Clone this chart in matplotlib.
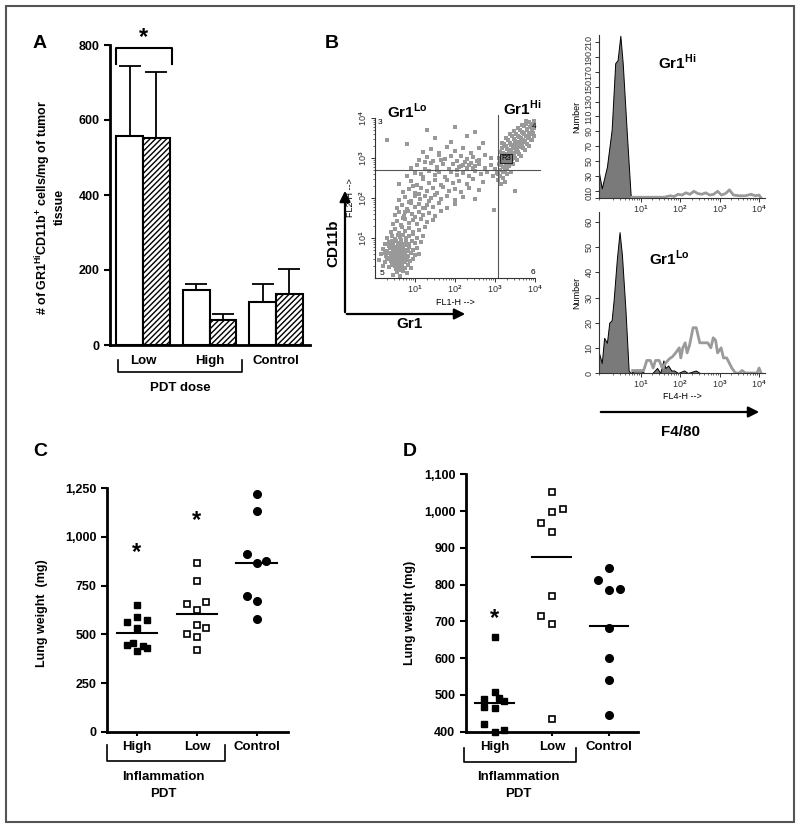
import matplotlib
matplotlib.use("Agg")
import matplotlib.pyplot as plt
from matplotlib.patches import FancyArrowPatch, Rectangle
from matplotlib.lines import Line2D
from matplotlib.ticker import LogLocator, NullFormatter
import numpy as np

plt.rcParams.update({
    'font.family': 'Liberation Sans',
    'font.weight': 'bold',
    'mathtext.fontset': 'custom',
    'mathtext.rm': 'Liberation Sans',
    'mathtext.bf': 'Liberation Sans:bold',
    'hatch.linewidth': 1.0,
})

# ---------------- data ----------------
# panel A
groups_a = ['Low', 'High', 'Control']
a_open = [557, 148, 115]
a_open_err = [187, 15, 47]
a_hatch = [553, 68, 136]
a_hatch_err = [174, 15, 67]

# panel B, dot plot (log10 Gr1, log10 CD11b)
lo_cluster = [
    (0.45, 0.08), (0.55, 0.15), (0.62, 0.05), (0.7, 0.18), (0.8, 0.12), (0.52, 0.22), (0.66, 0.25),
    (0.2, 0.3), (0.35, 0.27), (0.42, 0.33), (0.5, 0.29), (0.58, 0.34), (0.63, 0.21), (0.68, 0.31),
    (0.74, 0.26), (0.82, 0.33), (0.9, 0.24), (0.47, 0.38), (0.56, 0.42),
    (0.1, 0.45), (0.25, 0.4), (0.32, 0.47), (0.4, 0.42), (0.45, 0.49), (0.5, 0.44), (0.55, 0.37),
    (0.6, 0.47), (0.65, 0.41), (0.7, 0.48), (0.75, 0.39), (0.8, 0.45), (0.88, 0.42), (0.95, 0.48),
    (0.58, 0.52), (0.62, 0.39),
    (0.15, 0.6), (0.28, 0.55), (0.35, 0.62), (0.42, 0.57), (0.48, 0.64), (0.53, 0.55), (0.57, 0.61),
    (0.61, 0.57), (0.66, 0.63), (0.71, 0.54), (0.76, 0.6), (0.83, 0.56), (0.9, 0.63), (1.0, 0.58),
    (1.1, 0.61), (0.5, 0.51), (0.63, 0.5),
    (0.2, 0.72), (0.3, 0.68), (0.38, 0.75), (0.45, 0.7), (0.5, 0.77), (0.55, 0.69), (0.6, 0.74),
    (0.65, 0.67), (0.7, 0.76), (0.78, 0.71), (0.85, 0.78), (0.95, 0.7), (1.05, 0.75), (0.58, 0.8),
    (0.68, 0.82),
    (0.25, 0.85), (0.35, 0.9), (0.45, 0.84), (0.52, 0.92), (0.58, 0.87), (0.64, 0.94), (0.7, 0.86),
    (0.77, 0.91), (0.85, 0.85), (0.92, 0.93), (1.0, 0.88), (1.15, 0.9),
    (0.3, 1.0), (0.42, 1.05), (0.5, 0.98), (0.57, 1.08), (0.63, 1.02), (0.7, 1.07), (0.78, 0.99),
    (0.86, 1.04), (0.95, 1.09), (1.05, 1.0), (1.2, 1.06),
    (0.4, 1.15), (0.5, 1.22), (0.6, 1.13), (0.68, 1.27), (0.75, 1.18), (0.85, 1.24), (0.95, 1.14),
    (1.1, 1.2), (1.25, 1.28),
    (0.48, 0.35), (0.53, 0.46), (0.59, 0.58), (0.64, 0.66), (0.69, 0.52), (0.73, 0.44), (0.44, 0.61),
    (0.39, 0.52), (0.56, 0.73), (0.61, 0.84), (0.67, 0.73), (0.72, 0.62), (0.51, 0.6), (0.46, 0.79),
    (0.54, 0.32), (0.6, 0.28), (0.66, 0.36), (0.43, 0.92), (0.36, 0.8), (0.79, 0.52), (0.74, 0.82),
    (0.82, 0.68), (0.3, 0.5), (0.26, 0.63),
]
band = [
    (0.45, 1.35), (0.55, 1.42), (0.65, 1.33), (0.75, 1.47), (0.85, 1.38), (0.95, 1.44), (1.05, 1.36),
    (1.15, 1.48), (1.3, 1.4), (1.45, 1.46), (0.7, 1.5),
    (0.5, 1.58), (0.6, 1.65), (0.72, 1.55), (0.82, 1.68), (0.92, 1.6), (1.0, 1.53), (1.1, 1.66),
    (1.2, 1.57), (1.35, 1.63), (1.5, 1.55), (1.65, 1.68),
    (0.55, 1.75), (0.68, 1.82), (0.8, 1.72), (0.9, 1.88), (1.0, 1.78), (1.1, 1.85), (1.2, 1.74),
    (1.3, 1.83), (1.45, 1.77), (1.6, 1.87), (1.8, 1.75), (2.0, 1.84),
    (0.6, 1.95), (0.75, 2.02), (0.9, 1.93), (1.0, 2.06), (1.12, 1.98), (1.25, 2.04), (1.35, 1.92),
    (1.5, 2.07), (1.65, 1.97), (1.8, 2.05), (2.0, 1.95), (2.2, 2.03), (2.5, 1.98),
    (0.7, 2.15), (0.85, 2.22), (1.0, 2.12), (1.15, 2.26), (1.3, 2.18), (1.45, 2.24), (1.55, 2.13),
    (1.7, 2.27), (1.85, 2.17), (2.0, 2.23), (2.15, 2.14), (2.35, 2.25), (2.6, 2.19),
    (0.6, 2.35), (0.9, 2.42), (1.05, 2.33), (1.2, 2.47), (1.35, 2.38), (1.5, 2.44), (1.65, 2.32),
    (1.8, 2.46), (1.95, 2.37), (2.1, 2.43), (2.3, 2.35), (2.45, 2.48), (2.7, 2.4),
    (0.8, 2.55), (1.0, 2.62), (1.2, 2.53), (1.35, 2.67), (1.5, 2.58), (1.6, 2.64), (1.75, 2.52),
    (1.9, 2.66), (2.05, 2.57), (2.2, 2.63), (2.35, 2.54), (2.5, 2.68), (2.65, 2.59), (2.8, 2.65),
    (2.95, 2.56), (3.05, 2.62),
    (0.9, 2.75), (1.05, 2.82), (1.25, 2.73), (1.4, 2.87), (1.55, 2.78), (1.7, 2.84), (1.85, 2.72),
    (1.95, 2.86), (2.1, 2.77), (2.2, 2.83), (2.3, 2.74), (2.4, 2.88), (2.5, 2.79), (2.6, 2.85),
    (2.75, 2.76), (2.9, 2.82), (3.0, 2.73),
    (1.1, 2.95), (1.3, 3.02), (1.45, 2.93), (1.6, 3.07), (1.75, 2.98), (1.9, 3.04), (2.05, 2.92),
    (2.15, 3.06), (2.3, 2.97), (2.45, 3.03), (2.6, 2.94), (2.75, 3.08), (2.9, 2.99),
    (1.2, 3.15), (1.4, 3.22), (1.6, 3.13), (1.8, 3.27), (2.0, 3.18), (2.2, 3.24), (2.4, 3.12),
    (2.6, 3.26),
    (0.3, 3.45), (0.8, 3.35), (1.5, 3.5), (1.9, 3.4), (2.3, 3.55), (2.7, 3.38), (1.3, 3.7),
    (2.0, 3.78), (2.5, 3.65), (2.97, 1.7), (3.5, 2.18),
    (2.15, 2.8), (2.25, 2.9), (2.35, 2.82), (2.45, 2.76), (2.55, 2.92), (2.05, 2.7), (1.65, 2.95),
    (1.55, 2.7), (1.25, 2.9), (1.15, 2.6), (0.95, 2.3), (1.1, 2.1), (1.4, 2.0), (1.25, 1.75),
    (0.75, 1.65), (0.85, 1.9),
]
hi_cluster = [
    (3.08, 2.6), (3.12, 2.7), (3.1, 2.85), (3.15, 2.95), (3.2, 2.78), (3.22, 2.9), (3.18, 3.05),
    (3.25, 3.0), (3.28, 2.85), (3.3, 3.1), (3.32, 2.95), (3.35, 3.2), (3.38, 3.05), (3.4, 3.15),
    (3.42, 2.98), (3.45, 3.25), (3.48, 3.1), (3.5, 3.35), (3.52, 3.2), (3.55, 3.3), (3.58, 3.15),
    (3.6, 3.4), (3.62, 3.28), (3.65, 3.5), (3.68, 3.35), (3.7, 3.45), (3.72, 3.6), (3.75, 3.4),
    (3.78, 3.55), (3.8, 3.7), (3.82, 3.5), (3.85, 3.62), (3.88, 3.78), (3.9, 3.6), (3.92, 3.7),
    (3.95, 3.85), (3.97, 3.75), (3.98, 3.92),
    (3.13, 3.15), (3.17, 3.25), (3.23, 3.35), (3.28, 3.3), (3.33, 3.45), (3.38, 3.38), (3.43, 3.55),
    (3.48, 3.48), (3.53, 3.6), (3.58, 3.55), (3.63, 3.7), (3.68, 3.65), (3.73, 3.8), (3.78, 3.85),
    (3.85, 3.9),
    (3.25, 2.7), (3.35, 2.8), (3.45, 2.85), (3.55, 2.95), (3.65, 3.05), (3.75, 3.2), (3.85, 3.3),
    (3.92, 3.45), (3.97, 3.55),
    (3.1, 3.0), (3.2, 3.12), (3.3, 3.22), (3.4, 3.32), (3.5, 3.42), (3.6, 3.52), (3.7, 3.62),
    (3.8, 3.72), (3.9, 3.82),
    (3.15, 2.82), (3.25, 2.92), (3.35, 3.02), (3.45, 3.12), (3.55, 3.22), (3.65, 3.32), (3.75, 3.42),
    (3.85, 3.52), (3.95, 3.62),
    (3.2, 2.65), (3.3, 2.75), (3.4, 2.9), (3.5, 3.0), (3.6, 3.1), (3.7, 3.25), (3.8, 3.35),
    (3.9, 3.45),
    (3.12, 2.55), (3.2, 2.5), (3.3, 2.6), (3.08, 2.45), (3.15, 2.35), (3.25, 2.4), (3.4, 2.65),
    (3.18, 3.38), (3.28, 3.5), (3.38, 3.6), (3.48, 3.68), (3.58, 3.75), (3.68, 3.82), (3.78, 3.92),
]

# panel B, histograms (log10 FL4-H, counts)
hi_iso_exp = [-0.05, 0.02, 0.15, 0.27, 0.36, 0.42, 0.49, 0.55, 0.66, 0.75, 0.8, 4.1]
hi_iso_n = [34, 13, 42, 92, 182, 186, 219, 182, 82, 4, 0, 0]
hi_f480_exp = [0.78, 1.0, 1.3, 1.6, 1.75, 1.85, 1.95, 2.05, 2.15, 2.25, 2.35, 2.45, 2.55, 2.65,
               2.75, 2.85, 2.95, 3.05, 3.15, 3.25, 3.35, 3.5, 3.65, 3.8, 3.9, 4.0, 4.05]
hi_f480_n = [1, 1, 1, 1, 3, 2, 5, 4, 7, 5, 9, 6, 5, 7, 4, 5, 9, 4, 6, 11, 4, 3, 3, 5, 3, 4, 0]
lo_iso_exp = [-0.05, 0.02, 0.08, 0.15, 0.21, 0.27, 0.32, 0.4, 0.47, 0.53, 0.62, 0.7, 0.75, 0.85,
              1.0, 1.1, 1.3, 1.42, 1.5, 1.58, 1.63, 1.7, 1.78, 1.85, 1.95, 2.1, 2.2, 2.4, 2.5, 4.1]
lo_iso_n = [8, 4, 14, 12, 20, 21, 29, 45, 56, 47, 25, 1, 0, 1, 1, 0, 0, 2, 0, 5, 2, 3, 1, 1, 0,
            1, 0, 1, 0, 0]
lo_f480_exp = [0.8, 1.0, 1.08, 1.16, 1.25, 1.32, 1.38, 1.47, 1.55, 1.64, 1.72, 1.81, 1.89, 1.98,
               2.02, 2.07, 2.13, 2.18, 2.24, 2.33, 2.41, 2.5, 2.6, 2.7, 2.78, 2.84, 2.9, 2.95,
               3.04, 3.1, 3.18, 3.31, 3.4, 3.5, 3.57, 3.65, 3.95, 4.0, 4.05]
lo_f480_n = [1, 1, 1, 5, 5, 2, 5, 5, 2, 4, 5.5, 6.5, 8, 10, 6, 10, 12, 8, 11, 18, 18, 12, 12, 12,
             10, 14, 13, 8, 10, 6, 6, 2, 0, 0, 1, 0, 0, 2, 0]

# panel C (mg); col = horizontal slot of each dot
c_high = [651, 591, 565, 575, 535, 445, 455, 440, 432, 412]
c_high_col = [0, 0, -1, 1, 0, -1, -0.4, 0.6, 1, 0]
c_low = [865, 776, 656, 666, 625, 546, 533, 500, 485, 420]
c_low_col = [0, 0, -1, 1, 0, 0, 1, -1, 0, 0]
c_ctrl = [1219, 1134, 914, 868, 875, 697, 673, 580]
c_ctrl_col = [0, 0, -1, 0, 1, -1, 0, 0]
c_means = [508, 606, 868]

# panel D (mg)
d_high = [658, 509, 492, 488, 483, 468, 465, 420, 400, 405]
d_high_col = [0, 0, 0.43, -1, 0.86, -1, 0, -1, 0, 0.86]
d_low = [1053, 998, 1005, 967, 942, 769, 716, 692, 434]
d_low_col = [0, 0, 1, -1, 0, 0, -1, 0, 0]
d_ctrl = [845, 813, 784, 788, 683, 601, 541, 445]
d_ctrl_col = [0, -1, 0, 1, 0, 0, 0, 0]
d_means = [477, 876, 687]

groups_cd = ['High', 'Low', 'Control']

# ---------------- layout helpers ----------------
W, H = 800, 832
fig = plt.figure(figsize=(W / 100, H / 100), dpi=100)


def px_axes(l, t, r, b):
    return fig.add_axes([l / W, 1 - b / H, (r - l) / W, (b - t) / H])


def ftext(x, y, s, **kw):
    kw.setdefault('ha', 'center')
    kw.setdefault('va', 'center')
    return fig.text(x / W, 1 - y / H, s, **kw)


def fline(xs, ys, **kw):
    kw.setdefault('color', 'black')
    kw.setdefault('lw', 1.2)
    fig.add_artist(Line2D([x / W for x in xs], [1 - y / H for y in ys], **kw))


def farrow(p0, p1):
    fig.add_artist(FancyArrowPatch((p0[0] / W, 1 - p0[1] / H), (p1[0] / W, 1 - p1[1] / H),
                                   transform=fig.transFigure, arrowstyle='-|>',
                                   mutation_scale=16, lw=1.6, color='black'))


def bold_axes(ax):
    for s in ['top', 'right']:
        ax.spines[s].set_visible(False)
    for s in ['left', 'bottom']:
        ax.spines[s].set_linewidth(2)
    ax.tick_params(width=1.5, length=4, labelsize=9)


def facs_axes(ax):
    for s in ['top', 'right']:
        ax.spines[s].set_visible(False)
    for s in ['left', 'bottom']:
        ax.spines[s].set_linewidth(0.8)
        ax.spines[s].set_color('#333333')
    ax.tick_params(which='major', length=3, width=0.7, labelsize=6.5, colors='#333333')
    ax.tick_params(which='minor', length=1.5, width=0.5, colors='#333333')
    for lab in ax.get_xticklabels() + ax.get_yticklabels():
        lab.set_fontweight('normal')


def log_xticks(ax):
    ax.set_xticks([10, 100, 1000, 10000], [r'10$^{1}$', r'10$^{2}$', r'10$^{3}$', r'10$^{4}$'])
    ax.xaxis.set_minor_locator(LogLocator(subs=np.arange(2, 10)))
    ax.xaxis.set_minor_formatter(NullFormatter())


# outer frame
fig.add_artist(Rectangle((6 / W, 1 - 822 / H), 788 / W, 816 / H, transform=fig.transFigure,
                         fill=False, ec='#555555', lw=1.5))

# ---------------- panel A ----------------
axA = px_axes(110, 45, 310, 345)
xc = np.arange(len(groups_a))
axA.bar(xc - 0.2, a_open, 0.4, color='white', edgecolor='black', lw=1.5,
        yerr=[np.zeros(3), a_open_err], capsize=8, error_kw=dict(elinewidth=1.3, capthick=1.3))
axA.bar(xc + 0.2, a_hatch, 0.4, color='white', edgecolor='black', lw=1.5, hatch='//////',
        yerr=[np.zeros(3), a_hatch_err], capsize=8, error_kw=dict(elinewidth=1.3, capthick=1.3))
axA.set_xlim(-0.496, 2.51)
axA.set_ylim(0, 800)
axA.set_yticks([0, 200, 400, 600, 800])
bold_axes(axA)
axA.set_xticks(xc, groups_a, fontsize=9.5)
axA.tick_params(axis='x', length=0, pad=7)
# significance bracket
axA.plot([-0.406, -0.406, 0.436, 0.436], [749, 792, 792, 749], color='black', lw=1.5, clip_on=False)
axA.text(0.015, 790, '*', ha='center', va='bottom', fontsize=17)
fline([118, 118, 242, 242], [360, 372, 372, 360])
ftext(180, 388, 'PDT dose', fontsize=9.5)
ftext(50, 207, "# of GR1$^{\\mathbf{Hi}}$CD11b$^{\\mathbf{+}}$ cells/mg of tumor\ntissue",
      rotation=90, fontsize=9, linespacing=1.1)
ftext(40, 43, 'A', fontsize=14)

# ---------------- panel B dot plot ----------------
dots = np.array(lo_cluster + band + hi_cluster)
axS = px_axes(375, 118, 535, 278)
axS.set_xscale('log')
axS.set_yscale('log')
axS.plot(10 ** dots[:, 0], 10 ** dots[:, 1], 's', ms=2.4, mew=0, color='#999999')
axS.set_xlim(1, 1e4)
axS.set_ylim(1, 1e4)
axS.axvline(10 ** 3.07, color='#555555', lw=0.8, ymax=1.02, clip_on=False)
axS.axhline(10 ** 2.7, color='#555555', lw=0.8, xmax=1.03, clip_on=False)
log_xticks(axS)
axS.set_yticks([10, 100, 1000, 10000], [r'10$^{1}$', r'10$^{2}$', r'10$^{3}$', r'10$^{4}$'])
axS.yaxis.set_minor_locator(LogLocator(subs=np.arange(2, 10)))
axS.yaxis.set_minor_formatter(NullFormatter())
facs_axes(axS)
axS.tick_params(axis='y', labelrotation=90, pad=1)
axS.tick_params(axis='x', pad=1)
for lab in axS.get_yticklabels():
    lab.set_va('center')
axS.set_xlabel('FL1-H -->', fontsize=6.5, fontweight='normal', labelpad=2)
axS.set_ylabel('FL2-H -->', fontsize=6.5, fontweight='normal', labelpad=2)
axS.text(10 ** 3.28, 10 ** 2.98, 'R3', fontsize=5.5, fontweight='normal', ha='center', va='center',
         bbox=dict(boxstyle='square,pad=0.15', fc='#808080', ec='#222222', lw=0.8))
for q, xq, yq in [('3', 0.12, 3.88), ('4', 3.97, 3.8), ('5', 0.18, 0.12), ('6', 3.95, 0.15)]:
    axS.text(10 ** xq, 10 ** yq, q, fontsize=6, fontweight='normal', ha='center', va='center')
ftext(407, 111, r'Gr1$^{\mathbf{Lo}}$', fontsize=11)
ftext(522, 108, r'Gr1$^{\mathbf{Hi}}$', fontsize=11)
farrow((345, 315), (345, 188))
farrow((344, 314), (468, 314))
ftext(333, 243, 'CD11b', rotation=90, fontsize=11)
ftext(410, 324, 'Gr1', fontsize=11)
ftext(332, 43, 'B', fontsize=14)

# ---------------- panel B histograms ----------------
axH1 = px_axes(599, 35, 765, 198)
axH1.set_xscale('log')
axH1.fill_between(10 ** np.array(hi_iso_exp), hi_iso_n, color='#7a7a7a', ec='black', lw=0.7)
axH1.plot(10 ** np.array(hi_f480_exp), hi_f480_n, color='#9a9a9a', lw=2)
axH1.set_xlim(10 ** -0.05, 10 ** 4.15)
axH1.set_ylim(0, 220)
axH1.set_yticks([0, 10, 30, 50, 70, 90, 110, 130, 150, 170, 190, 210])
log_xticks(axH1)
facs_axes(axH1)
axH1.tick_params(axis='y', labelrotation=90, pad=1)
axH1.tick_params(axis='x', pad=1)
for lab in axH1.get_yticklabels():
    lab.set_va('center')
axH1.set_xlabel('FL4-H -->', fontsize=6.5, fontweight='normal', labelpad=1)
axH1.set_ylabel('Number', fontsize=6.5, fontweight='normal', labelpad=2)

axH2 = px_axes(599, 212, 765, 373)
axH2.set_xscale('log')
axH2.fill_between(10 ** np.array(lo_iso_exp), lo_iso_n, color='#7a7a7a', ec='black', lw=0.7)
axH2.plot(10 ** np.array(lo_f480_exp), lo_f480_n, color='#9a9a9a', lw=2)
axH2.set_xlim(10 ** -0.05, 10 ** 4.15)
axH2.set_ylim(0, 64)
axH2.set_yticks([0, 10, 20, 30, 40, 50, 60])
log_xticks(axH2)
facs_axes(axH2)
axH2.tick_params(axis='y', labelrotation=90, pad=1)
axH2.tick_params(axis='x', pad=1)
for lab in axH2.get_yticklabels():
    lab.set_va('center')
axH2.set_xlabel('FL4-H -->', fontsize=6.5, fontweight='normal', labelpad=1)
axH2.set_ylabel('Number', fontsize=6.5, fontweight='normal', labelpad=2)

ftext(677, 62, r'Gr1$^{\mathbf{Hi}}$', fontsize=11)
ftext(669, 258, r'Gr1$^{\mathbf{Lo}}$', fontsize=11)
farrow((598, 412), (762, 412))
ftext(681, 432, 'F4/80', fontsize=11)


# ---------------- panels C and D ----------------
def dot_panel(ax, series, cols, means, spacing, markers):
    for i, (vals, col, mk) in enumerate(zip(series, cols, markers)):
        xs = i + spacing * np.array(col)
        if mk == 'open':
            ax.plot(xs, vals, 's', ms=4.8, mfc='white', mec='black', mew=1.2, clip_on=False)
        elif mk == 'square':
            ax.plot(xs, vals, 's', ms=4.8, color='black', clip_on=False)
        else:
            ax.plot(xs, vals, 'o', ms=5.5, color='black', clip_on=False)
        ax.plot([i - 0.34, i + 0.34], [means[i], means[i]], color='black', lw=1.5)
    ax.set_xlim(-0.5, 2.52)
    bold_axes(ax)
    ax.set_xticks([0, 1, 2], groups_cd, fontsize=9.5)
    ax.tick_params(axis='x', length=3, pad=4)


axC = px_axes(107, 488.3, 288, 731.7)
dot_panel(axC, [c_high, c_low, c_ctrl], [c_high_col, c_low_col, c_ctrl_col], c_means, 0.16,
          ['square', 'open', 'circle'])
axC.set_ylim(0, 1250)
axC.set_yticks([0, 250, 500, 750, 1000, 1250], ['0', '250', '500', '750', '1,000', '1,250'])
axC.text(0, 918, '*', ha='center', va='center', fontsize=17)
axC.text(1, 1087, '*', ha='center', va='center', fontsize=17)
fline([107, 107, 225, 225], [745, 761, 761, 745])
ftext(163, 777, 'Inflammation', fontsize=9.5)
ftext(163, 794, 'PDT', fontsize=9.5)
ftext(42, 613, 'Lung weight  (mg)', rotation=90, fontsize=9)
ftext(40, 452, 'C', fontsize=14)

axD = px_axes(465.7, 474.3, 638, 731.7)
dot_panel(axD, [d_high, d_low, d_ctrl], [d_high_col, d_low_col, d_ctrl_col], d_means, 0.19,
          ['square', 'open', 'circle'])
axD.set_xlim(-0.51, 2.51)
axD.set_ylim(400, 1100)
axD.set_yticks(list(range(400, 1101, 100)),
               ['400', '500', '600', '700', '800', '900', '1,000', '1,100'])
axD.text(0, 708, '*', ha='center', va='center', fontsize=17)
fline([464, 464, 576, 576], [748, 762, 762, 748])
ftext(518, 777, 'Inflammation', fontsize=9.5)
ftext(518, 794, 'PDT', fontsize=9.5)
ftext(410, 613, 'Lung weight (mg)', rotation=90, fontsize=9)
ftext(410, 452, 'D', fontsize=14)

fig.savefig('out.png', dpi=100)
